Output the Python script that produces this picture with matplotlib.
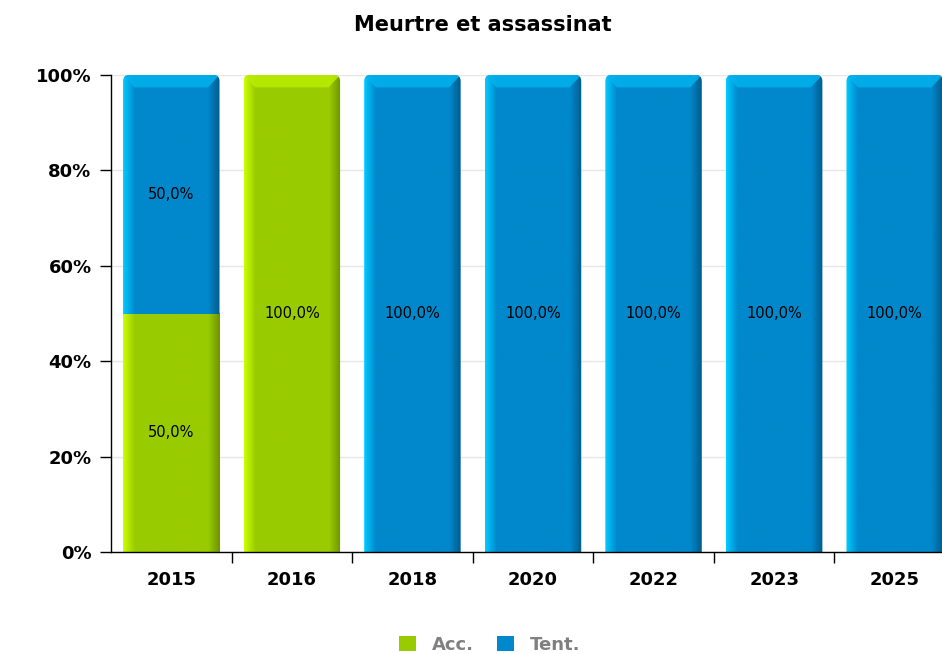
#!/usr/bin/env python3

import matplotlib.pyplot as plt
import numpy as np
from matplotlib.patches import FancyBboxPatch, Patch, Polygon

years = ["2015", "2016", "2018", "2020", "2022", "2023", "2025"]
acc_pct = [50.0, 100.0, 0.0, 0.0, 0.0, 0.0, 0.0]
tent_pct = [50.0, 0.0, 100.0, 100.0, 100.0, 100.0, 100.0]
series_names = ["Acc.", "Tent."]
title = "Meurtre et assassinat"

# base, light edge, dark edge, top bevel
GREEN = ("#99cc00", "#ccff00", "#6e9400", "#bbee00")
BLUE = ("#0088cc", "#00ccff", "#005c8c", "#00b2ee")

BAR_WIDTH = 0.8
EDGE = 0.12
BEVEL = 2.6
RADIUS = 0.05
# pixels per data unit: x ~120.7, y ~4.77
ASPECT = 120.7 / 4.77


def hex_rgb(color):
    color = color.lstrip("#")
    return np.array([int(color[i:i + 2], 16) / 255 for i in (0, 2, 4)])


def gradient_row(colors, n=200):
    base, light, dark = (hex_rgb(c) for c in colors[:3])
    t = np.linspace(0, 1, n)
    row = np.empty((n, 3))
    for i, v in enumerate(t):
        if v < EDGE:
            f = v / EDGE
            row[i] = light * (1 - f) + base * f
        elif v > 1 - EDGE:
            f = (v - (1 - EDGE)) / EDGE
            row[i] = base * (1 - f) + dark * f
        else:
            row[i] = base
    return row[np.newaxis, :, :]


def draw_segment(ax, x, bottom, height, colors, top):
    if height <= 0:
        return
    left = x - BAR_WIDTH / 2
    right = x + BAR_WIDTH / 2
    img = ax.imshow(gradient_row(colors), extent=(left, right, bottom, bottom + height),
                    aspect="auto", interpolation="bilinear", zorder=2)
    if top:
        y1 = bottom + height
        clip = FancyBboxPatch((left + RADIUS, bottom - 10), BAR_WIDTH - 2 * RADIUS,
                              height + 10 - RADIUS * ASPECT,
                              boxstyle=f"round,pad={RADIUS},rounding_size={RADIUS}",
                              mutation_aspect=ASPECT, transform=ax.transData,
                              facecolor="none", edgecolor="none")
        ax.add_patch(clip)
        img.set_clip_path(clip)
        dx = BAR_WIDTH * EDGE
        bevel = Polygon([(left, y1), (right, y1), (right - dx, y1 - BEVEL),
                         (left + dx, y1 - BEVEL)], closed=True,
                        facecolor=colors[3], edgecolor="none", alpha=0.85, zorder=3)
        ax.add_patch(bevel)
        bevel.set_clip_path(clip)


def pct(v):
    return f"{v:.1f}%".replace(".", ",")


fig = plt.figure(figsize=(9.42, 6.54), dpi=100)
ax = fig.add_axes([111 / 942, 1 - 552 / 654, 1 - 111 / 942, (552 - 75) / 654])

x = np.arange(len(years))
for i in x:
    a, t = acc_pct[i], tent_pct[i]
    draw_segment(ax, i, 0, a, GREEN, top=(t == 0))
    draw_segment(ax, i, a, t, BLUE, top=True)
    if a > 0:
        ax.text(i, a / 2, pct(a), ha="center", va="center", fontsize=10.5, zorder=5)
    if t > 0:
        ax.text(i, a + t / 2, pct(t), ha="center", va="center", fontsize=10.5, zorder=5)

ax.set_yticks(np.arange(0, 101, 20))
ax.set_yticklabels([f"{v}%" for v in range(0, 101, 20)], fontsize=13, fontweight="bold")
ax.set_xticks(x)
ax.set_xticklabels(years, fontsize=13, fontweight="bold")
ax.set_xticks(np.arange(len(years)) + 0.5, minor=True)
ax.set_xlim(-0.5, len(years) - 0.5 - 13 / 120.7)
ax.set_ylim(0, 100)
ax.tick_params(axis="x", which="major", length=0, pad=14)
ax.tick_params(axis="x", which="minor", length=8, width=1, direction="out")
ax.tick_params(axis="y", length=8, width=1, direction="out", pad=6)
ax.grid(True, axis="y", color="#e6e6e6", linewidth=1, zorder=0)
ax.set_axisbelow(True)
for side in ("top", "right"):
    ax.spines[side].set_visible(False)
ax.spines["left"].set_linewidth(1)
ax.spines["bottom"].set_linewidth(1)

fig.text(0.513, 1 - 25 / 654, title, ha="center", va="center", fontsize=15, fontweight="bold")

handles = [Patch(facecolor=GREEN[0]), Patch(facecolor=BLUE[0])]
leg = fig.legend(handles, series_names, loc="center", bbox_to_anchor=(0.52, 1 - 645 / 654),
                 ncol=2, frameon=False, handlelength=0.9, handleheight=0.9,
                 handletextpad=0.9, columnspacing=1.3,
                 prop={"weight": "bold", "size": 13})
for txt in leg.get_texts():
    txt.set_color("#808080")

fig.savefig("out.png", dpi=100)
